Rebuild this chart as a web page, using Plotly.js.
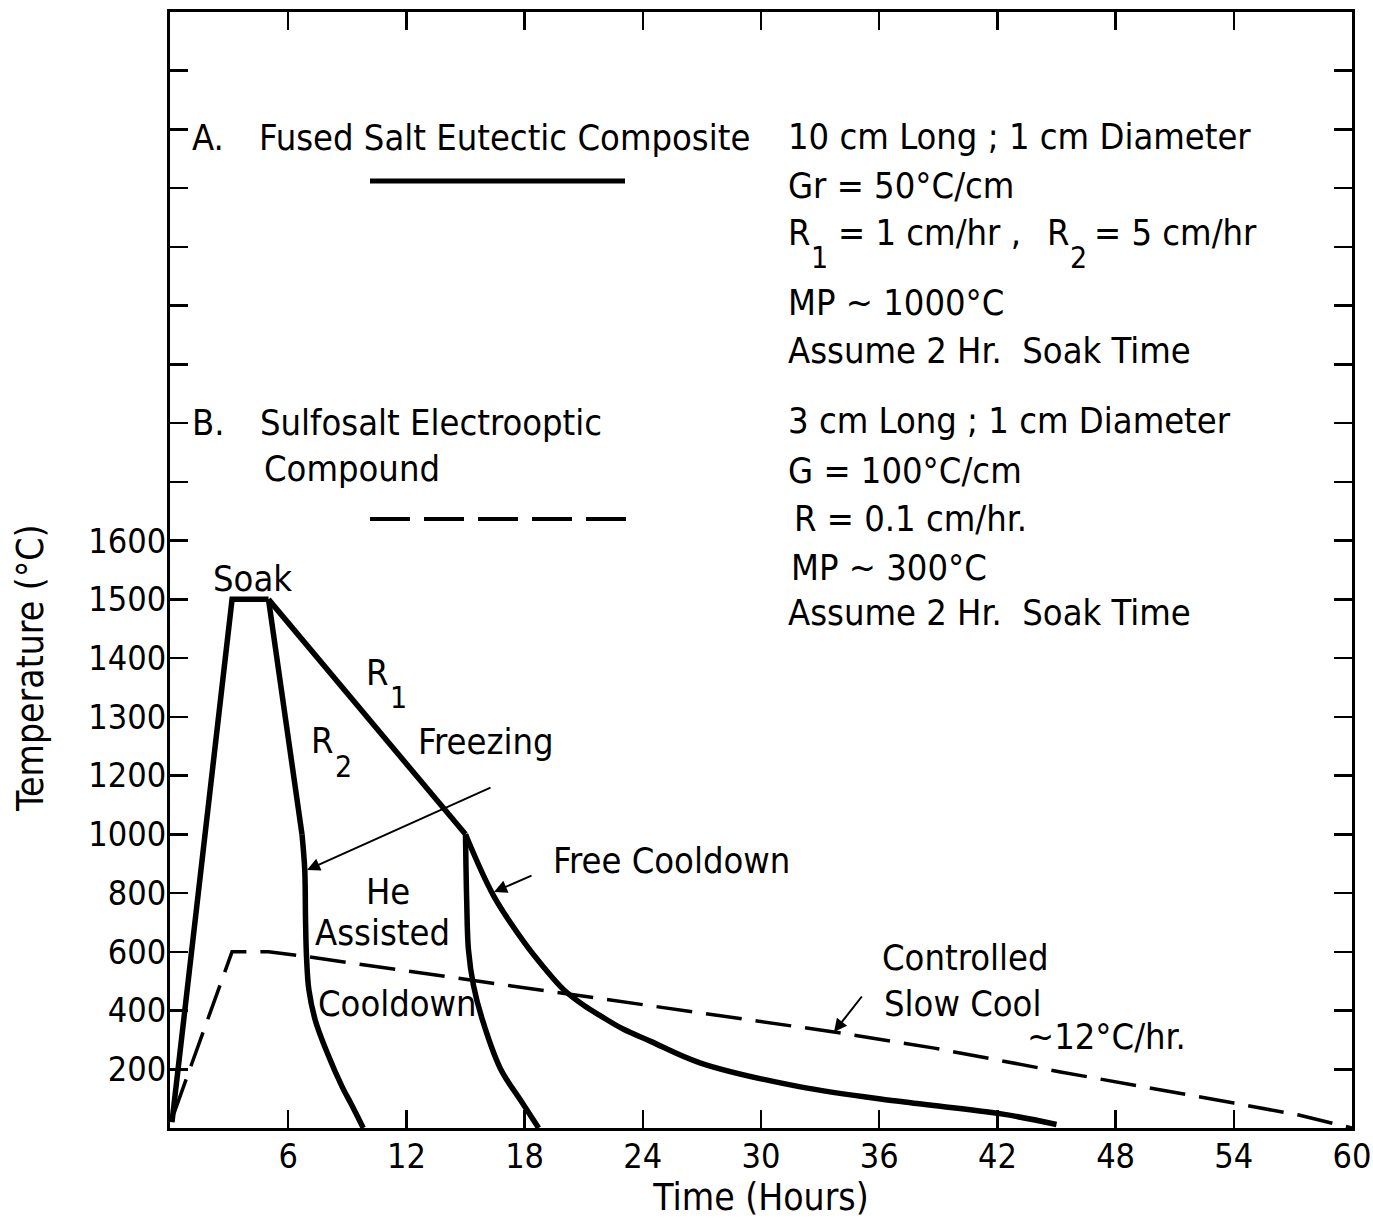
<!DOCTYPE html>
<html><head><meta charset="utf-8">
<script src="https://cdn.plot.ly/plotly-3.0.1.min.js"></script>
<style>html,body{margin:0;padding:0;background:#fff}#chart{width:1373px;height:1223px}</style>
</head><body><div id="chart"></div>
<script>
// ---- data ----
// Temperature axis is non-uniform: 200 °C per tick up to 1200, 100 °C per tick above.
const yTickTemps  = [200, 400, 600, 800, 1000, 1200, 1300, 1400, 1500, 1600];
const yTickLabels = ['200','400','600','800','1000','1200','1300','1400','1500','1600'];
const xTickHours  = [6, 12, 18, 24, 30, 36, 42, 48, 54, 60];
const xTickLabels = ['6','12','18','24','30','36','42','48','54','60'];

// A. Fused salt eutectic composite (solid)
const heatTime = [0.1, 3.15, 5.0];
const heatTemp = [20, 1500, 1500];
const r1Time = [5.0, 15.0];
const r1Temp = [1500, 1000];
const r2Time = [5.0, 6.7];
const r2Temp = [1500, 1000];
const he1Time = [6.7, 6.84, 6.88, 6.93, 7.05, 7.37, 7.98, 8.74, 9.25, 9.81];
const he1Temp = [1000, 879, 709, 583, 470, 368, 256, 140, 75, 0];
const he2Time = [15.0, 15.06, 15.15, 15.4, 15.86, 16.78, 17.79, 18.71];
const he2Temp = [1000, 777, 607, 487, 368, 201, 95, 0];
const freeTime = [15.0, 16.4, 18.0, 19.0, 20.0, 21.0, 21.9, 23.0, 24.4, 26.9, 32.0, 37.1, 42.2, 45.0];
const freeTemp = [1000, 794, 630, 545, 470, 418, 380, 337, 295, 222, 140, 90, 48, 12];
// B. Sulfosalt electrooptic compound (dashed)
const slowTime = [0.2, 3.15, 5.0, 7.0, 11.7, 21.9, 27.0, 33.7, 38.8, 45.2, 54.0, 57.3, 60];
const slowTemp = [50, 600, 600, 583, 538, 440, 392, 327, 272, 191, 85, 44, 0];

// ---- scale helpers ----
function tPos(T) { return T <= 1200 ? T / 200 : 6 + (T - 1200) / 100; }
const FONT = "'Liberation Sans Narrow', 'DejaVu Sans Condensed', 'Arial Narrow', 'Liberation Sans', sans-serif";
const L = 170, R = 21, T = 12, B = 95, W = 1373, H = 1223;
const YMAX = 19;
const pxX = (W - L - R) / 60, pxY = (H - T - B) / YMAX;
const X = px => (px - L) / pxX;
const Y = py => (H - B - py) / pxY;

// y ticks: labelled ones plus unlabelled upper ticks
const yVals = [0], yText = [''];
yTickTemps.forEach((t, i) => { yVals.push(tPos(t)); yText.push(yTickLabels[i]); });
for (let k = 11; k <= YMAX; k++) { yVals.push(k); yText.push(''); }
const xVals = [0].concat(xTickHours), xText = [''].concat(xTickLabels);

const solid = {color: '#000', width: 5.5};
function tr(t, temp, line, shape) {
  return {x: t, y: temp.map(tPos), type: 'scatter', mode: 'lines', line: Object.assign({shape: shape || 'linear'}, line),
          hoverinfo: 'skip', showlegend: false};
}
const data = [
  tr(heatTime, heatTemp, solid),
  tr(r1Time, r1Temp, solid),
  tr(r2Time, r2Temp, solid),
  tr(he1Time, he1Temp, Object.assign({smoothing: 1.0}, solid), 'spline'),
  tr(he2Time, he2Temp, Object.assign({smoothing: 1.0}, solid), 'spline'),
  tr(freeTime, freeTemp, Object.assign({smoothing: 1.0}, solid), 'spline'),
  tr(slowTime, slowTemp, {color: '#000', width: 3.5, dash: '36px,14px'})
];

const FS = 36;
function txt(text, px, py, size, opts) {
  return Object.assign({text: text, x: X(px), y: Y(py), xref: 'x', yref: 'y', showarrow: false,
    xanchor: 'left', yanchor: 'middle', font: {family: FONT, size: size || FS, color: '#000'}}, opts || {});
}
function arrow(hx, hy, tx, ty) {
  return {text: '', x: X(hx), y: Y(hy), ax: X(tx), ay: Y(ty), xref: 'x', yref: 'y', axref: 'x', ayref: 'y',
    showarrow: true, arrowhead: 2, arrowsize: 1.3, arrowwidth: 2, arrowcolor: '#000', standoff: 0};
}
const annotations = [
  txt('A.', 190, 137), txt('Fused Salt Eutectic Composite', 257, 137),
  txt('B.', 190, 422), txt('Sulfosalt Electrooptic', 258, 422), txt('Compound', 262, 468),
  txt('10 cm Long ; 1 cm Diameter', 786, 136),
  txt('Gr = 50°C/cm', 786, 185),
  txt('R', 786, 232), txt('1', 809, 257, 30), txt('= 1 cm/hr ,', 836, 232),
  txt('R', 1045, 232), txt('2', 1068, 257, 30), txt('= 5 cm/hr', 1092, 232),
  txt('MP ~ 1000°C', 786, 302),
  txt('Assume 2 Hr.  Soak Time', 786, 350),
  txt('3 cm Long ; 1 cm Diameter', 786, 420),
  txt('G = 100°C/cm', 786, 470),
  txt('R = 0.1 cm/hr.', 792, 518),
  txt('MP ~ 300°C', 789, 567),
  txt('Assume 2 Hr.  Soak Time', 786, 612),
  txt('Soak', 252, 578, FS, {xanchor: 'center'}),
  txt('R', 364, 672), txt('1', 388, 697, 30),
  txt('R', 309, 740), txt('2', 333, 766, 30),
  txt('Freezing', 416, 741),
  txt('He', 388, 891, FS, {xanchor: 'center'}),
  txt('Assisted', 382, 932, FS, {xanchor: 'center'}),
  txt('Cooldown', 397, 1003, FS, {xanchor: 'center'}),
  txt('Free Cooldown', 551, 860),
  txt('Controlled', 880, 957),
  txt('Slow Cool', 882, 1003),
  txt('~12°C/hr.', 1025, 1036),
  arrow(307, 870, 492, 787),
  arrow(494, 892, 533, 875),
  arrow(834, 1032, 863, 995),
  {text: 'Temperature (°C)', textangle: -90, xref: 'paper', yref: 'y', x: (30 - L) / (W - L - R), y: Y(668),
   xanchor: 'center', yanchor: 'middle', showarrow: false, font: {family: FONT, size: 37, color: '#000'}}
];
const shapes = [
  {type: 'line', xref: 'x', yref: 'y', x0: X(370), x1: X(625), y0: Y(181), y1: Y(181), line: {color: '#000', width: 5}},
  {type: 'line', xref: 'x', yref: 'y', x0: X(370), x1: X(627), y0: Y(519), y1: Y(519), line: {color: '#000', width: 4, dash: '40px,14px'}}
];
const axisCommon = {showline: true, linecolor: '#000', linewidth: 3, mirror: 'ticks', ticks: 'inside',
  ticklen: 18, tickwidth: 2.5, tickcolor: '#000', showgrid: false, zeroline: false,
  ticklabeloverflow: 'allow', tickfont: {family: FONT, size: 34, color: '#000'}};
const layout = {
  width: W, height: H, margin: {l: L, r: R, t: T, b: B},
  paper_bgcolor: '#fff', plot_bgcolor: '#fff', showlegend: false,
  xaxis: Object.assign({}, axisCommon, {range: [0, 60], tickmode: 'array', tickvals: xVals, ticktext: xText,
    ticklabelstandoff: -4,
    title: {text: 'Time (Hours)', font: {family: FONT, size: 37, color: '#000'}, standoff: 6}}),
  yaxis: Object.assign({}, axisCommon, {range: [0, YMAX], tickmode: 'array', tickvals: yVals, ticktext: yText,
    ticklabelstandoff: -6}),
  annotations: annotations, shapes: shapes
};
Plotly.newPlot('chart', data, layout, {displayModeBar: false, staticPlot: true});
</script></body></html>
